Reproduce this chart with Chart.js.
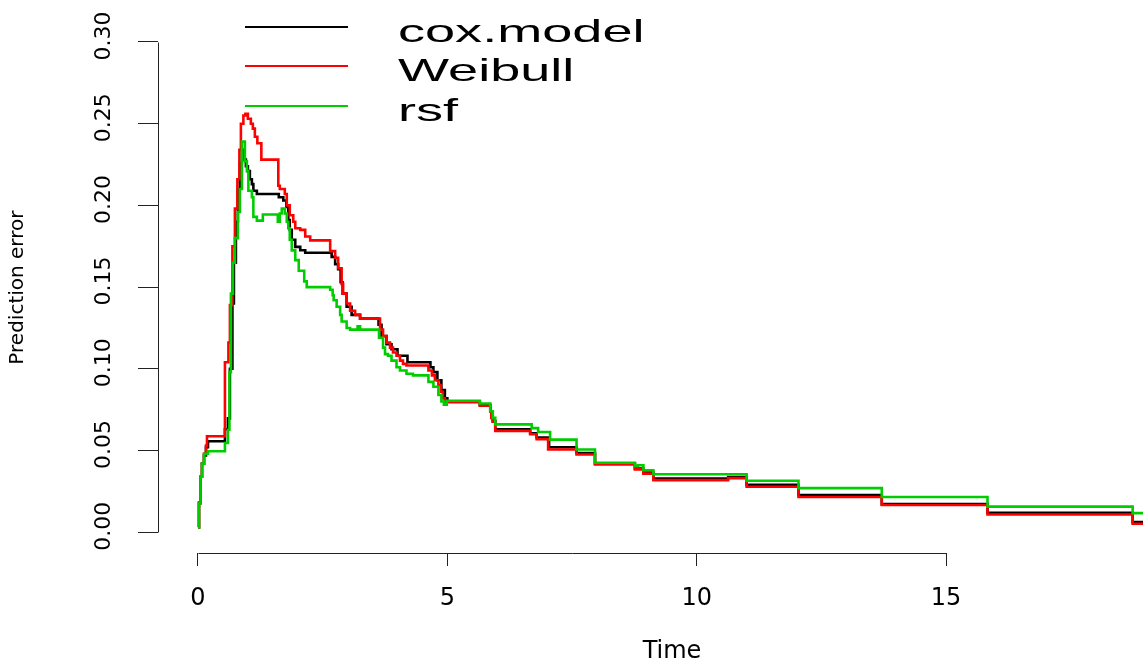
<!DOCTYPE html>
<html>
<head>
<meta charset="utf-8">
<script src="https://cdn.jsdelivr.net/npm/chart.js@4/dist/chart.umd.min.js"></script>
<style>
  html, body { margin: 0; padding: 0; background: #fff; overflow: hidden; width: 1143px; height: 661px; }
  canvas { display: block; }
</style>
</head>
<body>
<canvas id="c" width="1186" height="661"></canvas>
<script>
// ---- data (step functions: jump times and values) ----
const seriesNames = ["cox.model", "Weibull", "rsf"];
const seriesColors = ["#000000", "#FF0000", "#00CD00"];

const coxTime = [0,0.02,0.05,0.08,0.12,0.16,0.2, 0.54,0.6,0.64,0.69,0.72,0.76,0.8,0.84,0.88,0.92,0.96, 1.0,1.04,1.08,1.11,1.18, 1.62,1.71,1.77,1.81,1.84,1.88,1.95, 2.05,2.15,2.68,2.75,2.81,2.86,2.9,2.98, 3.08,3.25,3.62,3.68,3.78,3.88,4.0,4.2, 4.66,4.72,4.8,4.88,4.95,5.0, 5.65,5.86,5.91,5.96, 6.66,6.79,7.04,7.59,7.96, 8.76,8.93,9.13,10.63,11.0,12.04,13.71,15.83,18.74,20.5];
const coxError = [0.003,0.018,0.034,0.042,0.047,0.052,0.0557, 0.063,0.0697,0.10,0.14,0.165,0.19,0.21,0.226,0.234,0.228,0.224, 0.221,0.216,0.213,0.209,0.207, 0.205,0.203,0.199,0.191,0.185,0.179,0.1746, 0.1726,0.171,0.1685,0.164,0.161,0.153,0.146,0.138, 0.133,0.1307,0.127,0.120,0.115,0.112,0.108,0.104, 0.101,0.098,0.093,0.087,0.082,0.080, 0.078,0.074,0.068,0.063, 0.0605,0.058,0.052,0.0485,0.042, 0.039,0.0365,0.0329,0.0337,0.029,0.0228,0.0172,0.0119,0.0062,0.0062];

const weibullTime = [0,0.02,0.05,0.08,0.12,0.16,0.18, 0.54,0.61,0.64,0.69,0.74,0.79,0.83,0.86,0.91,0.95, 1.0,1.06,1.10,1.14,1.19,1.27, 1.61,1.64,1.74,1.78,1.84,1.91,1.95, 2.05,2.15,2.25,2.65,2.75,2.81,2.88,2.91,2.98, 3.05,3.15,3.25,3.65,3.71,3.78,3.85,3.91,3.98, 4.05,4.11,4.18,4.62,4.69,4.75,4.82,4.87,4.91,4.95, 5.65,5.86,5.88,5.91,5.96, 6.66,6.79,7.02,7.59,7.96, 8.76,8.93,9.13,10.63,11.0,12.04,13.71,15.83,18.74,20.5];
const weibullError = [0.003,0.018,0.034,0.042,0.048,0.053,0.0587, 0.104,0.116,0.139,0.175,0.198,0.216,0.234,0.250,0.255,0.256, 0.253,0.250,0.247,0.242,0.238,0.228, 0.212,0.210,0.207,0.200,0.194,0.190,0.186, 0.185,0.181,0.1786,0.172,0.168,0.1615,0.152,0.146,0.140, 0.1355,0.133,0.1307,0.124,0.120,0.116,0.113,0.110,0.108, 0.105,0.103,0.102,0.099,0.096,0.093,0.090,0.086,0.082,0.0795, 0.0774,0.0738,0.070,0.0677,0.062, 0.060,0.057,0.0506,0.0476,0.0415, 0.0385,0.0359,0.0319,0.0331,0.0278,0.0216,0.0167,0.0109,0.0052,0.0052];

const rsfTime = [0,0.02,0.05,0.08,0.12,0.2, 0.54,0.6,0.63,0.66,0.7,0.74,0.8,0.84,0.88, 0.94,0.98,1.01,1.08,1.11,1.18,1.3, 1.6,1.64,1.68,1.74,1.78,1.81,1.84,1.88,1.95, 2.02,2.13,2.18,2.65,2.7,2.72,2.78,2.85,2.88,2.98, 3.05,3.2,3.25,3.63,3.71,3.75,3.81,3.88,3.98, 4.05,4.18,4.31,4.62,4.72,4.82,4.88,4.93,4.99, 5.65,5.86,5.91,5.96, 6.69,6.82,7.06,7.59,7.96, 8.76,8.82,8.93,9.13,11.0,12.04,13.71,15.83,18.74,20.5];
const rsfError = [0.003,0.0175,0.034,0.042,0.048,0.0496, 0.0546,0.0627,0.098,0.146,0.165,0.18,0.196,0.21,0.239, 0.227,0.221,0.209,0.205,0.193,0.1907,0.1944, 0.19,0.195,0.198,0.195,0.19,0.186,0.179,0.1725,0.1665, 0.160,0.1535,0.150,0.1484,0.145,0.142,0.138,0.133,0.129,0.125, 0.124,0.126,0.124,0.119,0.113,0.109,0.108,0.105,0.101, 0.099,0.097,0.096,0.092,0.089,0.084,0.080,0.078,0.0805, 0.0788,0.074,0.070,0.066, 0.0637,0.0613,0.0567,0.0506,0.0425, 0.0405,0.041,0.0379,0.0355,0.0315,0.027,0.0216,0.0157,0.0117,0.0117];

const xTicks = [0, 5, 10, 15];
const yTicks = [0, 0.05, 0.10, 0.15, 0.20, 0.25, 0.30];
const xTitle = "Time";
const yTitle = "Prediction error";

// ---- build datasets ----
function pts(t, e) { return t.map((x, i) => ({ x: x, y: e[i] })); }
const allSeries = [pts(coxTime, coxError), pts(weibullTime, weibullError), pts(rsfTime, rsfError)];

const datasets = allSeries.map((d, i) => ({
  label: seriesNames[i],
  data: d,
  borderColor: seriesColors[i],
  backgroundColor: seriesColors[i],
  borderWidth: 2.6,
  pointRadius: 0,
  stepped: 'before',
  fill: false,
  order: 3 - i
}));

const AXIS_COLOR = '#222';

// R-style axis lines (span first..last tick) and R-style legend
const rStyle = {
  id: 'rStyle',
  afterDraw(chart) {
    const ctx = chart.ctx;
    const xs = chart.scales.x, ys = chart.scales.y;
    const area = chart.chartArea;
    ctx.save();
    ctx.strokeStyle = AXIS_COLOR;
    ctx.lineWidth = 1;
    // y axis line
    const yx = Math.round(area.left) + 0.5;
    ctx.beginPath();
    ctx.moveTo(yx, Math.round(ys.getPixelForValue(yTicks[yTicks.length - 1])) + 0.5);
    ctx.lineTo(yx, Math.round(ys.getPixelForValue(yTicks[0])) + 0.5);
    ctx.stroke();
    // x axis line
    const xy = Math.round(area.bottom) + 0.5;
    ctx.beginPath();
    ctx.moveTo(Math.round(xs.getPixelForValue(xTicks[0])) + 0.5, xy);
    ctx.lineTo(Math.round(xs.getPixelForValue(xTicks[xTicks.length - 1])) + 0.5, xy);
    ctx.stroke();

    // legend
    const lineX0 = 245, lineX1 = 348, textX = 398;
    const rowY = [27, 66, 106];
    ctx.font = '32px "Liberation Sans", Arial, sans-serif';
    ctx.textBaseline = 'alphabetic';
    ctx.textAlign = 'left';
    chart.data.datasets.forEach((ds, i) => {
      ctx.strokeStyle = ds.borderColor;
      ctx.lineWidth = 2;
      ctx.beginPath();
      ctx.moveTo(lineX0, rowY[i]);
      ctx.lineTo(lineX1, rowY[i]);
      ctx.stroke();
      ctx.save();
      ctx.translate(textX, rowY[i] + 14.5);
      ctx.scale(1.69, 1);
      ctx.fillStyle = '#000';
      ctx.fillText(ds.label, 0, 0);
      ctx.restore();
    });
    ctx.restore();
  }
};

new Chart(document.getElementById('c'), {
  type: 'line',
  data: { datasets: datasets },
  plugins: [rStyle],
  options: {
    responsive: false,
    animation: false,
    devicePixelRatio: 1,
    layout: { padding: { top: 16, left: 0, right: 0, bottom: 0 } },
    plugins: {
      legend: { display: false },
      tooltip: { enabled: false }
    },
    scales: {
      x: {
        type: 'linear',
        min: -0.802,
        max: 19.81,
        afterBuildTicks: (s) => { s.ticks = xTicks.map(v => ({ value: v })); },
        afterFit: (s) => { s.height = 108; },
        border: { display: false },
        grid: { drawOnChartArea: false, drawTicks: true, tickLength: 13, color: AXIS_COLOR, lineWidth: 1 },
        ticks: {
          color: '#000',
          font: { family: '"DejaVu Sans"', size: 24 },
          padding: 18,
          maxRotation: 0,
          autoSkip: false,
          callback: (v) => String(v)
        },
        title: {
          display: true,
          text: xTitle,
          color: '#000',
          font: { family: '"DejaVu Sans"', size: 24, lineHeight: 1 },
          padding: { top: 0, bottom: -3 }
        }
      },
      y: {
        type: 'linear',
        min: -0.0127,
        max: 0.3121,
        afterBuildTicks: (s) => { s.ticks = yTicks.map(v => ({ value: v })); },
        afterFit: (s) => { s.width = 158; },
        border: { display: false },
        grid: { drawOnChartArea: false, drawTicks: true, tickLength: 20, color: AXIS_COLOR, lineWidth: 1 },
        ticks: {
          color: '#000',
          font: { family: '"DejaVu Sans"', size: 22 },
          padding: 9,
          minRotation: 90,
          maxRotation: 90,
          crossAlign: 'center',
          labelOffset: -6,
          autoSkip: false,
          callback: (v) => Number(v).toFixed(2)
        },
        title: {
          display: true,
          text: yTitle,
          color: '#000',
          font: { family: '"DejaVu Sans"', size: 20 },
          padding: { top: 5.5, bottom: 0 }
        }
      }
    }
  }
});
</script>
</body>
</html>
